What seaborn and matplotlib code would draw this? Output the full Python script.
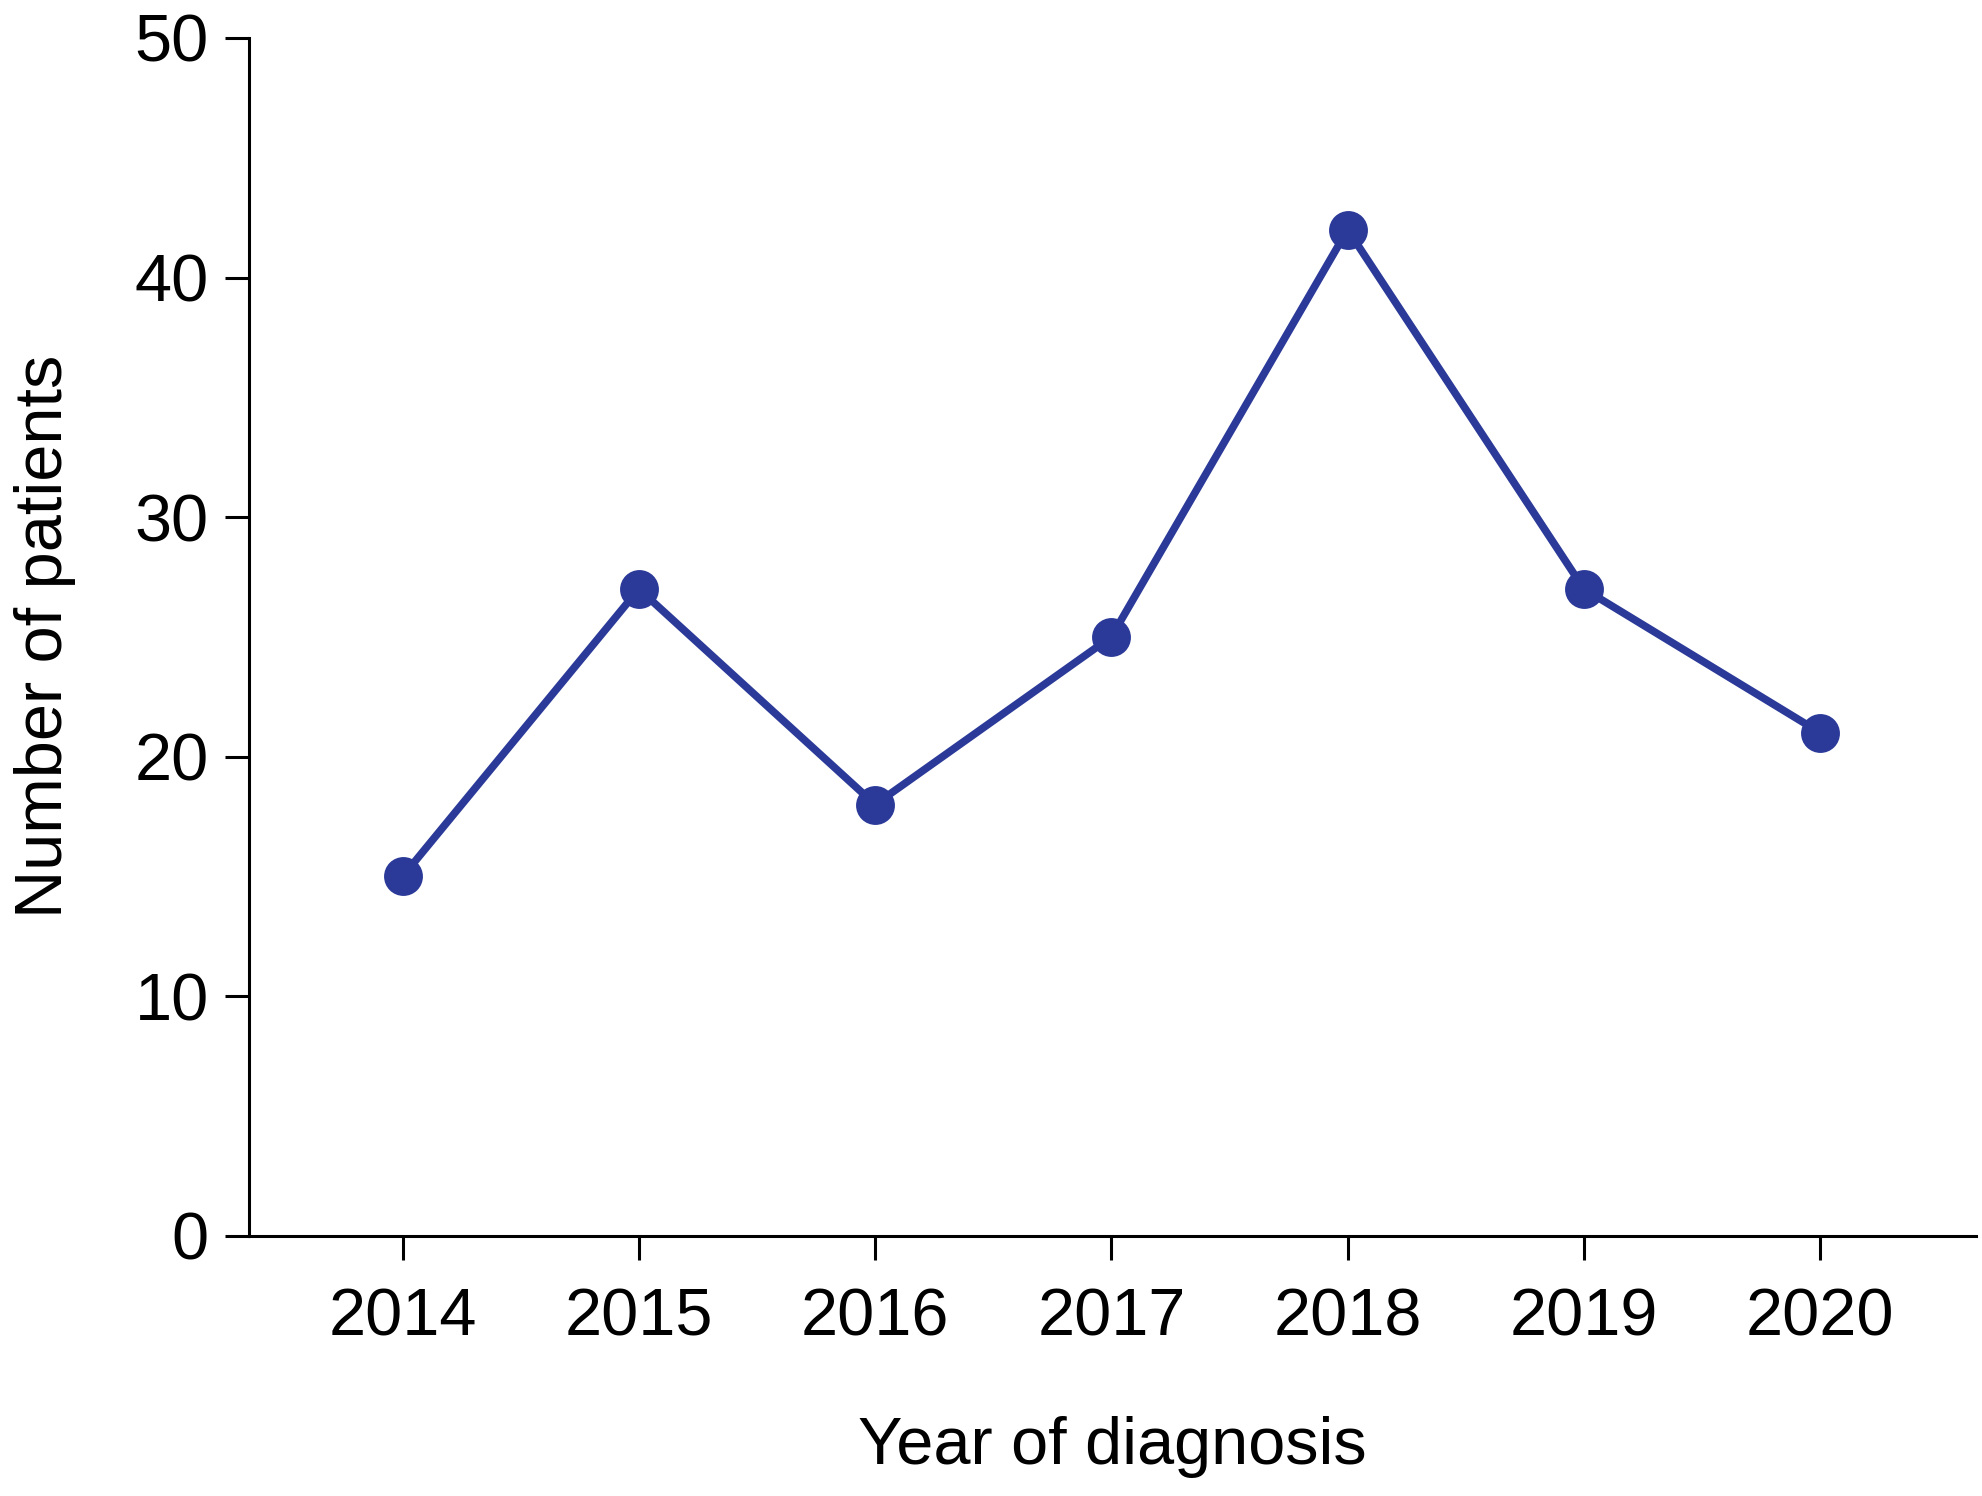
import pandas as pd
import seaborn as sns
import matplotlib.pyplot as plt

years = [2014, 2015, 2016, 2017, 2018, 2019, 2020]
patients = [15, 27, 18, 25, 42, 27, 21]
y_ticks = [0, 10, 20, 30, 40, 50]

df = pd.DataFrame({"Year": years, "Patients": patients})

sns.set_style("ticks")
plt.rcParams["font.family"] = ["Liberation Sans", "DejaVu Sans"]
plt.rcParams["text.color"] = "black"
plt.rcParams["axes.labelcolor"] = "black"
plt.rcParams["xtick.color"] = "black"
plt.rcParams["ytick.color"] = "black"

fig = plt.figure(figsize=(19.83, 14.96), dpi=100)
ax = fig.add_axes([0.1256, 0.174, 0.8709, 0.8006])

line_color = "#2b3a99"
sns.lineplot(data=df, x="Year", y="Patients", ax=ax, color=line_color,
             linewidth=5.5, marker="o", markersize=28, markeredgewidth=0)

ax.set_xlim(2013.35, 2020.66)
ax.set_ylim(0, 50)
ax.set_xticks(years)
ax.set_yticks(y_ticks)
ax.tick_params(axis="both", labelsize=48, length=17, width=2.2,
               color="black", labelcolor="black")
ax.tick_params(axis="y", pad=12)
ax.tick_params(axis="x", pad=20)
for side in ["left", "bottom"]:
    ax.spines[side].set_linewidth(2.2)
    ax.spines[side].set_color("black")
sns.despine(ax=ax)

ax.set_xlabel("Year of diagnosis", fontsize=48, labelpad=48, color="black")
ax.set_ylabel("Number of patients", fontsize=48, color="black")
ax.yaxis.set_label_coords(-0.1, 0.5)

fig.savefig("out.png", dpi=100)
